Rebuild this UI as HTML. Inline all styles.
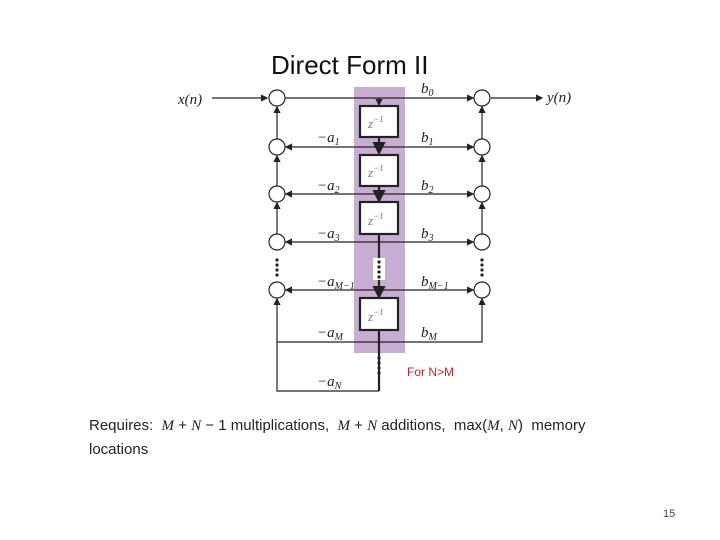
<!DOCTYPE html>
<html><head><style>
body{margin:0;background:#fff;width:720px;height:540px;overflow:hidden;position:relative;font-family:"Liberation Sans",sans-serif}
.t{position:absolute}
</style></head><body>
<div class="t" style="left:271px;top:50px;font-size:26px;color:#111">Direct Form II</div>
<svg width="720" height="540" style="position:absolute;left:0;top:0">
<defs><marker id="a" markerWidth="6" markerHeight="6" refX="5" refY="3" orient="auto"><path d="M0,0 L6,3 L0,6 z" fill="#222"/></marker></defs>
<rect x="354" y="87" width="51" height="266" fill="#c9aed3"/>
<g stroke="#222" stroke-width="1.2" fill="none">
<line x1="212" y1="98" x2="267" y2="98" marker-end="url(#a)"/>
<line x1="285" y1="98" x2="473" y2="98" marker-end="url(#a)"/>
<line x1="491" y1="98" x2="542" y2="98" marker-end="url(#a)"/>
<line x1="379" y1="98" x2="379" y2="105" marker-end="url(#a)"/>
<g>
<line x1="379" y1="147" x2="286" y2="147" marker-end="url(#a)"/><line x1="379" y1="147" x2="473" y2="147" marker-end="url(#a)"/>
<line x1="379" y1="194" x2="286" y2="194" marker-end="url(#a)"/><line x1="379" y1="194" x2="473" y2="194" marker-end="url(#a)"/>
<line x1="379" y1="242" x2="286" y2="242" marker-end="url(#a)"/><line x1="379" y1="242" x2="473" y2="242" marker-end="url(#a)"/>
<line x1="379" y1="290" x2="286" y2="290" marker-end="url(#a)"/><line x1="379" y1="290" x2="473" y2="290" marker-end="url(#a)"/>
</g>
<polyline points="379,342 277,342 277,391 379,391"/>
<line x1="277" y1="342" x2="277" y2="299" marker-end="url(#a)"/>
<polyline points="379,342 482,342 482,299" marker-end="url(#a)"/>
<line x1="277" y1="139" x2="277" y2="107" marker-end="url(#a)"/>
<line x1="277" y1="186" x2="277" y2="156" marker-end="url(#a)"/>
<line x1="277" y1="234" x2="277" y2="203" marker-end="url(#a)"/>
<line x1="482" y1="139" x2="482" y2="107" marker-end="url(#a)"/>
<line x1="482" y1="186" x2="482" y2="156" marker-end="url(#a)"/>
<line x1="482" y1="234" x2="482" y2="203" marker-end="url(#a)"/>
</g>
<g stroke="#222" stroke-width="2.2" fill="none">
<line x1="379" y1="137" x2="379" y2="153" marker-end="url(#a)"/>
<line x1="379" y1="186" x2="379" y2="201" marker-end="url(#a)"/>
<line x1="379" y1="234" x2="379" y2="297" marker-end="url(#a)"/>
<line x1="379" y1="330" x2="379" y2="391"/>
<rect x="360" y="106" width="38" height="31" fill="#fff"/>
<rect x="360" y="155" width="38" height="31" fill="#fff"/>
<rect x="360" y="202" width="38" height="32" fill="#fff"/>
<rect x="360" y="298" width="38" height="32" fill="#fff"/>
</g>
<rect x="373" y="258" width="12" height="22" fill="#fff"/>
<g fill="#222"><circle cx="379" cy="262" r="1.6"/><circle cx="379" cy="267" r="1.6"/><circle cx="379" cy="272" r="1.6"/><circle cx="379" cy="277" r="1.6"/>
<circle cx="379" cy="358" r="1.6"/><circle cx="379" cy="363" r="1.6"/><circle cx="379" cy="368" r="1.6"/><circle cx="379" cy="373" r="1.6"/>
<circle cx="277" cy="260" r="1.6"/><circle cx="277" cy="265" r="1.6"/><circle cx="277" cy="270" r="1.6"/><circle cx="277" cy="275" r="1.6"/>
<circle cx="482" cy="260" r="1.6"/><circle cx="482" cy="265" r="1.6"/><circle cx="482" cy="270" r="1.6"/><circle cx="482" cy="275" r="1.6"/></g>
<g stroke="#222" stroke-width="1.2" fill="#fff">
<circle cx="277" cy="98" r="8"/><circle cx="277" cy="147" r="8"/><circle cx="277" cy="194" r="8"/><circle cx="277" cy="242" r="8"/><circle cx="277" cy="290" r="8"/>
<circle cx="482" cy="98" r="8"/><circle cx="482" cy="147" r="8"/><circle cx="482" cy="194" r="8"/><circle cx="482" cy="242" r="8"/><circle cx="482" cy="290" r="8"/>
</g>
<g font-family="Liberation Serif,serif" font-style="italic" font-size="15" fill="#222">
<text x="178" y="104">x(n)</text><text x="547" y="102">y(n)</text>
<text x="421" y="93">b<tspan font-size="10" dy="3">0</tspan></text>
<text x="421" y="142">b<tspan font-size="10" dy="3">1</tspan></text>
<text x="421" y="190">b<tspan font-size="10" dy="3">2</tspan></text>
<text x="421" y="238">b<tspan font-size="10" dy="3">3</tspan></text>
<text x="421" y="286">b<tspan font-size="10" dy="3">M−1</tspan></text>
<text x="421" y="337">b<tspan font-size="10" dy="3">M</tspan></text>
<text x="317" y="142">−a<tspan font-size="10" dy="3">1</tspan></text>
<text x="317" y="190">−a<tspan font-size="10" dy="3">2</tspan></text>
<text x="317" y="238">−a<tspan font-size="10" dy="3">3</tspan></text>
<text x="317" y="286">−a<tspan font-size="10" dy="3">M−1</tspan></text>
<text x="317" y="337">−a<tspan font-size="10" dy="3">M</tspan></text>
<text x="317" y="386">−a<tspan font-size="10" dy="3">N</tspan></text>
<g font-size="13" fill="#777"><text x="368" y="128">z<tspan font-size="9" dy="-6">−1</tspan></text>
<text x="368" y="177">z<tspan font-size="9" dy="-6">−1</tspan></text>
<text x="368" y="225">z<tspan font-size="9" dy="-6">−1</tspan></text>
<text x="368" y="321">z<tspan font-size="9" dy="-6">−1</tspan></text></g>
</g>
<text x="407" y="376" font-size="12" fill="#d02030">For N&gt;M</text>
</svg>
<div class="t" style="left:89px;top:417px;font-size:15px;color:#222">Requires: &nbsp;<i style="font-family:'Liberation Serif',serif">M</i> + <i style="font-family:'Liberation Serif',serif">N</i> − 1 multiplications, &nbsp;<i style="font-family:'Liberation Serif',serif">M</i> + <i style="font-family:'Liberation Serif',serif">N</i> additions, &nbsp;max(<i style="font-family:'Liberation Serif',serif">M</i>, <i style="font-family:'Liberation Serif',serif">N</i>) &nbsp;memory</div>
<div class="t" style="left:89px;top:441px;font-size:15px;color:#222">locations</div>
<div class="t" style="left:663px;top:508px;font-size:11px;color:#444">15</div>
</body></html>
